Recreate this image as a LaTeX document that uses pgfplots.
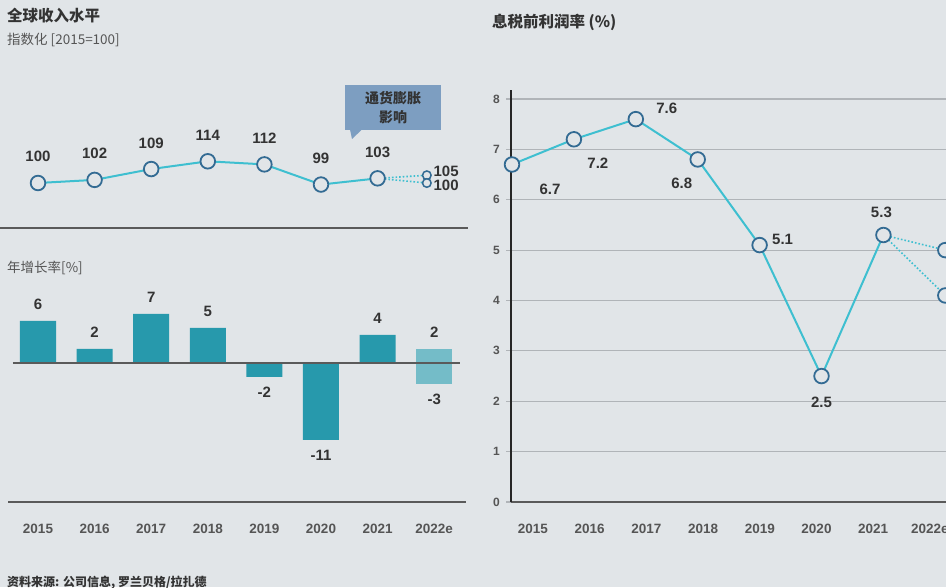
\documentclass[border=0pt]{standalone}
\usepackage{pgfplots}
\pgfplotsset{compat=1.18}
\usepackage{fontspec}
\setmainfont{Liberation Sans}
\newfontfamily\cjk{Noto Sans CJK SC}
\definecolor{bg}{HTML}{E1E5E8}
\definecolor{barc}{HTML}{2799AC}
\definecolor{barlight}{HTML}{74BCC8}
\definecolor{linec}{HTML}{3EBFD0}
\definecolor{mk}{HTML}{336B93}
\definecolor{txt}{HTML}{333333}
\definecolor{tickc}{HTML}{555555}
\definecolor{gridc}{HTML}{B0B4B8}
\definecolor{sepc}{HTML}{5A5A5A}
\definecolor{callout}{HTML}{7D9EC1}
\pgfplotsset{/pgf/number format/assume math mode=true}
\newcommand\numfont{\bfseries\fontsize{15}{17}\selectfont}
\begin{document}
\begin{tikzpicture}
\path[use as bounding box] (0pt,0pt) rectangle (946pt,587pt);
\clip (0pt,0pt) rectangle (946pt,587pt);
\fill[bg] (0pt,0pt) rectangle (946pt,587pt);

% titles
\node[anchor=west, inner sep=0pt, text=txt, font=\cjk\bfseries\fontsize{15.5}{17}\selectfont] at (7pt,571pt) {全球收入水平};
\node[anchor=west, inner sep=0pt, text=tickc, font=\cjk\fontsize{13.5}{15}\selectfont] at (7pt,547pt) {指数化 [2015=100]};
\node[anchor=west, inner sep=0pt, text=tickc, font=\cjk\fontsize{13.5}{15}\selectfont] at (7pt,319pt) {年增长率[\%]};
\node[anchor=west, inner sep=0pt, text=txt, font=\cjk\bfseries\fontsize{15.5}{17}\selectfont] at (492pt,565pt) {息税前利润率 (\%)};
\node[anchor=west, inner sep=0pt, text=txt, font=\cjk\bfseries\fontsize{12}{14}\selectfont] at (7pt,4pt) {资料来源: 公司信息, 罗兰贝格/拉扎德};

% separators
\draw[sepc, line width=1.5pt] (0pt,359pt) -- (468pt,359pt);
\draw[sepc, line width=1.5pt] (8pt,85pt) -- (466pt,85pt);

% callout
\fill[callout] (345pt,457pt) rectangle (441pt,502pt);
\fill[callout] (350pt,457.5pt) -- (352pt,448pt) -- (362pt,457.5pt) -- cycle;
\node[align=center, text=txt, inner sep=0pt, font=\cjk\bfseries\fontsize{14}{19}\selectfont] at (393pt,479.5pt) {通货膨胀\\影响};

% ---------- index line (top left)
\begin{axis}[at={(9.7pt,388.5pt)}, anchor=south west, scale only axis,
  width=452.8pt, height=46.5pt, xmin=-0.5, xmax=7.5, ymin=90, ymax=120,
  hide axis, clip=false]
\addplot[linec, line width=1.6pt, dash pattern=on 1.6pt off 2pt] coordinates {(6,103) (6.87,105)};
\addplot[linec, line width=1.6pt, dash pattern=on 1.6pt off 2pt] coordinates {(6,103) (6.87,100)};
\addplot[linec, line width=2pt, mark=*, mark size=7.3pt,
  mark options={draw=mk, fill=bg, line width=1.8pt, solid},
  nodes near coords, every node near coord/.style={font=\numfont, text=txt, anchor=south, inner sep=0pt, yshift=20pt}]
  coordinates {(0,100) (1,102) (2,109) (3,114) (4,112) (5,99) (6,103)};
\addplot[only marks, mark=*, mark size=4.3pt, mark options={draw=mk, fill=bg, line width=1.5pt},
  nodes near coords, every node near coord/.style={font=\numfont, text=txt, anchor=west, inner sep=0pt, xshift=6pt, yshift=4pt}]
  coordinates {(6.87,105)};
\addplot[only marks, mark=*, mark size=4.3pt, mark options={draw=mk, fill=bg, line width=1.5pt},
  nodes near coords, every node near coord/.style={font=\numfont, text=txt, anchor=west, inner sep=0pt, xshift=6pt, yshift=-2pt}]
  coordinates {(6.87,100)};
\end{axis}

% ---------- growth bars (bottom left)
\begin{axis}[at={(9.7pt,84pt)}, anchor=south west, scale only axis,
  width=452.8pt, height=196pt, xmin=-0.5, xmax=7.5, ymin=-20, ymax=8,
  clip=false, axis y line=none, axis x line*=bottom, x axis line style={draw=none},
  xtick={0,...,7}, xticklabels={2015,2016,2017,2018,2019,2020,2021,2022e},
  xtick style={draw=none},
  xticklabel style={font=\bfseries\fontsize{13.5}{15}\selectfont, text=tickc, inner sep=0pt, yshift=-17pt},
  ybar, bar width=36pt, bar shift=0pt]
\addplot[fill=barc, draw=none,
  nodes near coords, every node near coord/.style={font=\numfont, text=txt, anchor=south, inner sep=0pt, yshift=11pt}]
  coordinates {(0,6) (1,2) (2,7) (3,5) (6,4)};
\addplot[fill=barc, draw=none,
  nodes near coords, every node near coord/.style={font=\numfont, text=txt, anchor=north, inner sep=0pt, yshift=-10pt}]
  coordinates {(4,-2) (5,-11)};
\addplot[fill=barlight, draw=none,
  nodes near coords, every node near coord/.style={font=\numfont, text=txt, anchor=south, inner sep=0pt, yshift=11pt}]
  coordinates {(7,2)};
\addplot[fill=barlight, draw=none,
  nodes near coords, every node near coord/.style={font=\numfont, text=txt, anchor=north, inner sep=0pt, yshift=-10pt}]
  coordinates {(7,-3)};
\draw[sepc, line width=1.5pt] (axis cs:-0.442,0) -- (axis cs:7.456,0);
\end{axis}

% ---------- EBIT margin (right)
\begin{axis}[at={(511pt,85pt)}, anchor=south west, scale only axis,
  width=435pt, height=412.07pt, xmin=-0.0162, xmax=7.011, ymin=0, ymax=8.18,
  clip=false,
  axis x line*=bottom, axis y line*=left,
  x axis line style={draw=sepc, line width=1.8pt, -},
  y axis line style={draw=black!85, line width=1.3pt, -},
  ytick={0,...,8}, ymajorgrids, grid style={draw=gridc, line width=1.2pt},
  tick align=outside, major tick length=5pt, ytick style={draw=gridc, line width=1.2pt},
  yticklabel style={font=\bfseries\fontsize{12}{14}\selectfont, text=tickc, inner sep=0pt, xshift=-6pt},
  xtick={0.339,1.255,2.171,3.087,4.003,4.919,5.835,6.751},
  xticklabels={2015,2016,2017,2018,2019,2020,2021,2022e},
  xtick style={draw=none},
  xticklabel style={font=\bfseries\fontsize{13.5}{15}\selectfont, text=tickc, inner sep=0pt, yshift=-17pt},
]
\addplot[linec, line width=1.6pt, dash pattern=on 1.6pt off 2pt] coordinates {(6,5.3) (7,5.0)};
\addplot[linec, line width=1.6pt, dash pattern=on 1.6pt off 2pt] coordinates {(6,5.3) (7,4.1)};
\addplot[linec, line width=2pt, mark=*, mark size=7.3pt,
  mark options={draw=mk, fill=bg, line width=1.8pt, solid}]
  coordinates {(0,6.7) (1,7.2) (2,7.6) (3,6.8) (4,5.1) (5,2.5) (6,5.3)};
\addplot[only marks, mark=*, mark size=7.3pt, mark options={draw=mk, fill=bg, line width=1.8pt}]
  coordinates {(7,5.0) (7,4.1)};
\node[font=\numfont, text=txt, inner sep=0pt, xshift=38pt, yshift=-25pt] at (axis cs:0,6.7) {6.7};
\node[font=\numfont, text=txt, inner sep=0pt, xshift=24pt, yshift=-24pt] at (axis cs:1,7.2) {7.2};
\node[font=\numfont, text=txt, inner sep=0pt, xshift=31pt, yshift=11pt] at (axis cs:2,7.6) {7.6};
\node[font=\numfont, text=txt, inner sep=0pt, xshift=-16pt, yshift=-24pt] at (axis cs:3,6.8) {6.8};
\node[font=\numfont, text=txt, inner sep=0pt, xshift=23pt, yshift=6pt] at (axis cs:4,5.1) {5.1};
\node[font=\numfont, text=txt, inner sep=0pt, xshift=0pt, yshift=-26pt] at (axis cs:5,2.5) {2.5};
\node[font=\numfont, text=txt, inner sep=0pt, xshift=-2pt, yshift=23pt] at (axis cs:6,5.3) {5.3};
\end{axis}
\end{tikzpicture}
\end{document}
